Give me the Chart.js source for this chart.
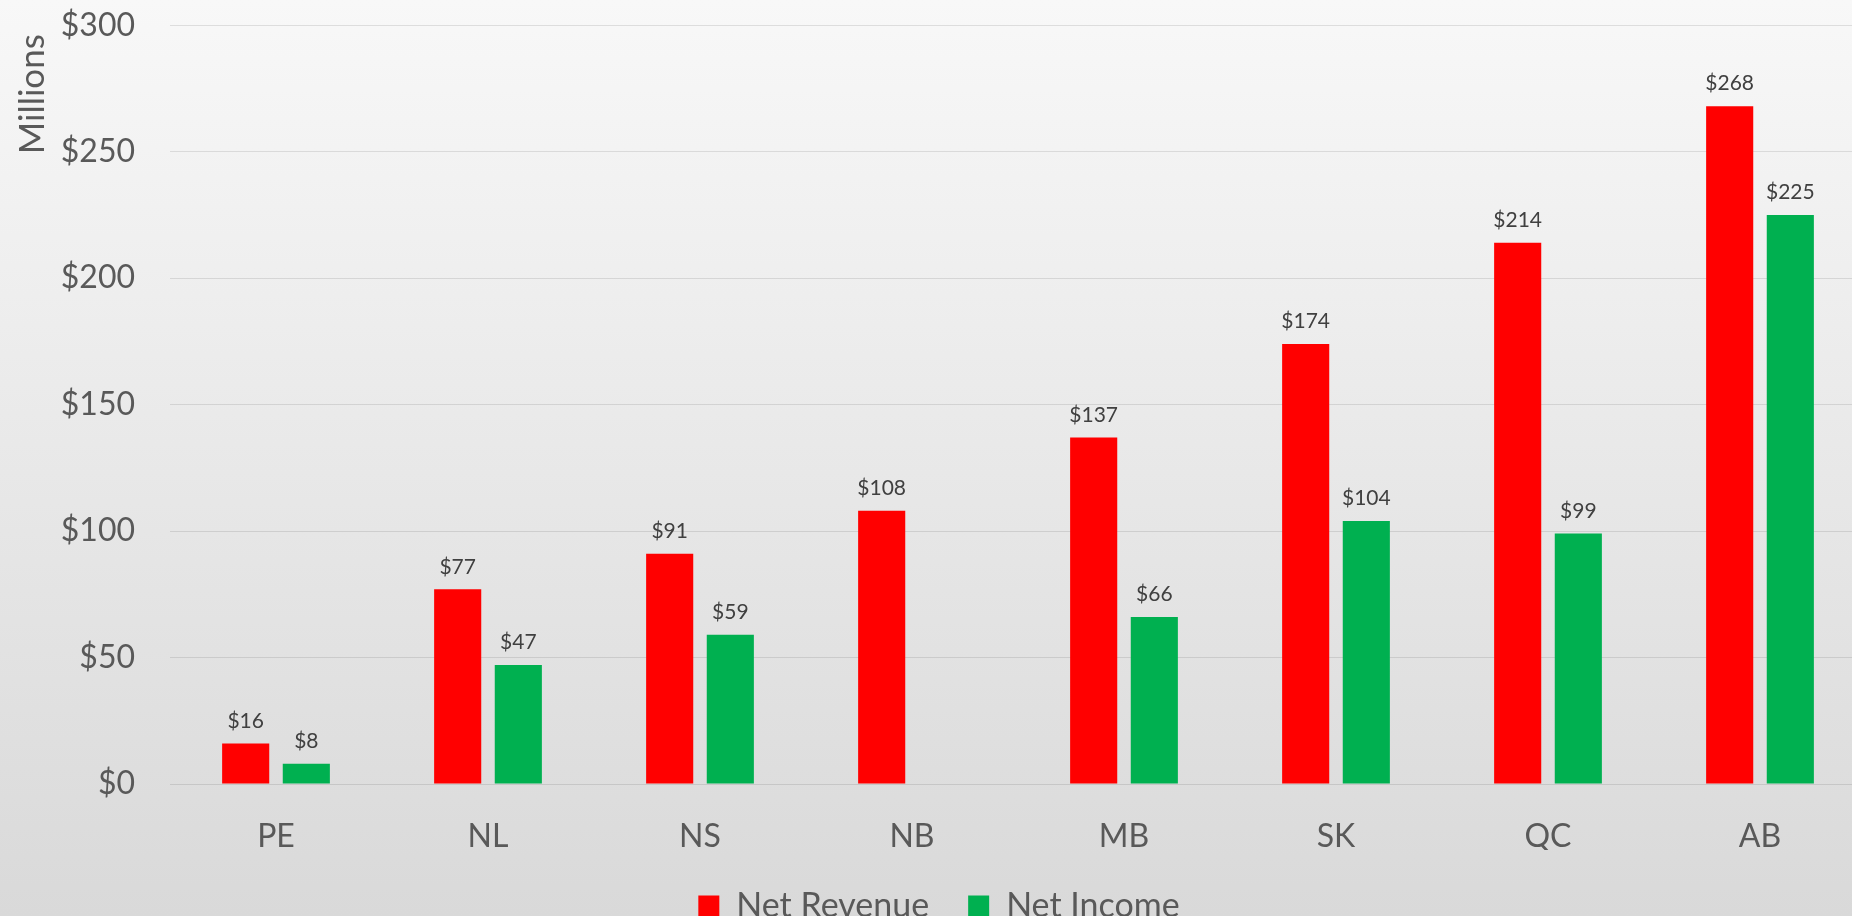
<!DOCTYPE html>
<html>
<head>
<meta charset="utf-8">
<script src="https://cdn.jsdelivr.net/npm/chart.js@4.4.0/dist/chart.umd.min.js"></script>
<style>
    html, body { margin: 0; padding: 0; overflow: hidden; }
    #wrap {
        width: 1852px;
        height: 916px;
        overflow: hidden;
        background: linear-gradient(to bottom, #f8f8f8 0%, #d9d9d9 100%);
    }
    canvas { display: block; margin-top: -29px; }
</style>
</head>
<body>
<div id="wrap">
    <canvas id="revenueChart" width="1866" height="962"></canvas>
</div>
<script>
// data (millions)
const provinces = ['PE', 'NL', 'NS', 'NB', 'MB', 'SK', 'QC', 'AB'];
const netRevenue = [16, 77, 91, 108, 137, 174, 214, 268];
const netIncome = [8, 47, 59, null, 66, 104, 99, 225];
const yTicks = [0, 50, 100, 150, 200, 250, 300];

const textColor = '#595959';

// small plugin to write the value above each bar
const valueLabels = {
    id: 'valueLabels',
    afterDatasetsDraw(chart) {
        const ctx = chart.ctx;
        ctx.save();
        ctx.font = '21px Lato';
        ctx.fillStyle = '#404040';
        ctx.textAlign = 'center';
        ctx.textBaseline = 'bottom';
        chart.data.datasets.forEach((ds, i) => {
            const meta = chart.getDatasetMeta(i);
            meta.data.forEach((bar, j) => {
                const v = ds.data[j];
                if (v === null || v === undefined) return;
                ctx.fillText('$' + v, bar.x, bar.y - 12);
            });
        });
        ctx.restore();
    }
};

new Chart(document.getElementById('revenueChart').getContext('2d'), {
    type: 'bar',
    data: {
        labels: provinces,
        datasets: [
            {
                label: 'Net Revenue',
                data: netRevenue,
                backgroundColor: '#FF0000',
                barPercentage: 0.777,
                categoryPercentage: 0.572
            },
            {
                label: 'Net Income',
                data: netIncome,
                backgroundColor: '#00B050',
                barPercentage: 0.777,
                categoryPercentage: 0.572
            }
        ]
    },
    options: {
        responsive: false,
        animation: false,
        layout: { padding: { top: 0, left: 12, right: 0, bottom: 0 } },
        plugins: {
            legend: {
                position: 'bottom',
                labels: {
                    font: { family: 'Lato', size: 34 },
                    color: textColor,
                    boxWidth: 21,
                    boxHeight: 21,
                    padding: 39
                }
            },
            tooltip: { enabled: false }
        },
        scales: {
            x: {
                grid: { display: false },
                border: { display: false },
                afterFit: axis => { axis.height = 66; },
                ticks: {
                    font: { family: 'Lato', size: 32 },
                    color: textColor,
                    padding: 25
                }
            },
            y: {
                min: 0,
                max: 300,
                afterBuildTicks: axis => { axis.ticks = yTicks.map(v => ({ value: v })); },
                afterFit: axis => { axis.width = 158; },
                grid: { color: 'rgba(0,0,0,0.1)', lineWidth: 1, drawTicks: false },
                border: { display: false },
                ticks: {
                    font: { family: 'Lato', size: 32 },
                    color: textColor,
                    padding: 35,
                    callback: v => '$' + v
                },
                title: {
                    display: true,
                    text: 'Millions ',
                    align: 'end',
                    font: { family: 'Lato', size: 35 },
                    color: textColor,
                    padding: { top: 0, bottom: 10 }
                }
            }
        }
    },
    plugins: [valueLabels]
});
</script>
</body>
</html>
